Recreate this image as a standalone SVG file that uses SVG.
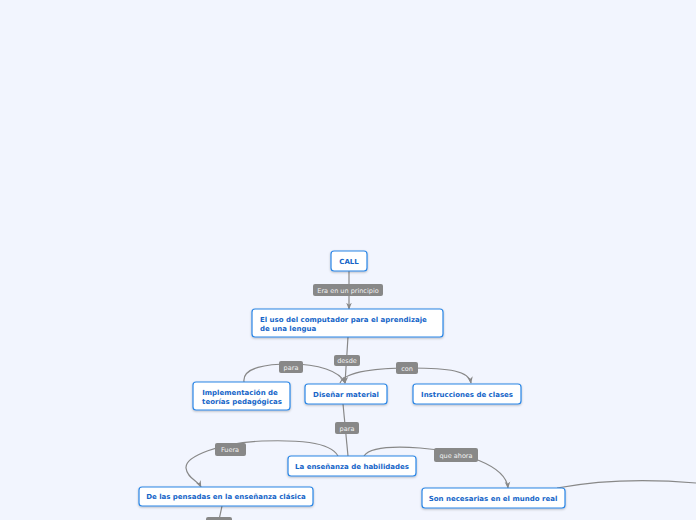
<svg xmlns="http://www.w3.org/2000/svg" width="696" height="520" viewBox="0 0 696 520">
<defs>
<marker id="arr" viewBox="0 0 10 10" refX="9" refY="5" markerWidth="7" markerHeight="7" orient="auto" markerUnits="userSpaceOnUse">
<path d="M0,1 L10,5 L0,9 L3,5 Z" fill="#888"/>
</marker>
<filter id="sh" x="-10%" y="-20%" width="120%" height="150%">
<feDropShadow dx="0" dy="1" stdDeviation="0.8" flood-color="#000" flood-opacity="0.25"/>
</filter>
</defs>
<style>
.node rect{fill:#fff;stroke:#2b86e6;stroke-width:1.2;filter:url(#sh)}
.node text{font-family:"DejaVu Sans",Verdana,sans-serif;font-weight:bold;font-size:7px;fill:#1565c8}
.lab rect{fill:#888}
.lab text{font-family:"DejaVu Sans",Verdana,sans-serif;font-size:6.5px;fill:#f2f2f2;text-anchor:middle}
.con path{fill:none;stroke:#888;stroke-width:1.2}
</style>
<rect width="696" height="520" fill="#f2f5fe"/>
<g id="connectors" class="con">
<path d="M349,271 L349,309" marker-end="url(#arr)"/>
<path d="M348,337 L345,383" marker-end="url(#arr)"/>
<path d="M244,382 C242,367 268,364 290,364 C318,364 340,371 345,383" marker-end="url(#arr)"/>
<path d="M340,383 C345,371 380,368 410,368 C450,368 469,371 471,383" marker-end="url(#arr)"/>
<path d="M343,404 L348,456"/>
<path d="M338,456 C330,441 295,440 262,441 C220,443 185,456 186,468 C187,478 198,481 201,487" marker-end="url(#arr)"/>
<path d="M364,456 C370,447 392,446 420,448 C462,451 506,465 508,488" marker-end="url(#arr)"/>
<path d="M557,488 C600,480 650,479 696,483"/>
<path d="M222,506 L219,520"/>
</g>
<g class="lab">
<g><rect x="313" y="284" width="70" height="12" rx="2"/><text x="348" y="292.5">Era en un principio</text></g>
<g><rect x="334" y="355" width="26" height="11" rx="2"/><text x="347" y="363">desde</text></g>
<g><rect x="279" y="361" width="24" height="12" rx="2"/><text x="291" y="369.5">para</text></g>
<g><rect x="396" y="362" width="22" height="12" rx="2"/><text x="407" y="370.5">con</text></g>
<g><rect x="335" y="422" width="24" height="12" rx="2"/><text x="347" y="430.5">para</text></g>
<g><rect x="215" y="443" width="31" height="13" rx="2"/><text x="230" y="452">Fuera</text></g>
<g><rect x="434" y="448" width="44" height="14" rx="2"/><text x="456" y="457.5">que ahora</text></g>
<g><rect x="206" y="517" width="26" height="10" rx="2"/></g>
</g>
<g id="call" class="node"><rect x="331" y="251" width="36" height="20" rx="3"/><text x="349" y="263.5" text-anchor="middle">CALL</text></g>
<g id="uso" class="node"><rect x="252" y="309" width="191" height="28" rx="3"/><text x="260" y="321.5">El uso del computador para el aprendizaje</text><text x="260" y="330.5">de una lengua</text></g>
<g id="impl" class="node"><rect x="193" y="382" width="97" height="28" rx="3"/><text x="240" y="394.5" text-anchor="middle">Implementación de</text><text x="242" y="403.5" text-anchor="middle">teorías pedagógicas</text></g>
<g id="disenar" class="node"><rect x="305" y="384" width="82" height="20" rx="3"/><text x="346" y="396.5" text-anchor="middle">Diseñar material</text></g>
<g id="instr" class="node"><rect x="413" y="384" width="108" height="20" rx="3"/><text x="467" y="396.5" text-anchor="middle">Instrucciones de clases</text></g>
<g id="ense" class="node"><rect x="288" y="456" width="128" height="20" rx="3"/><text x="352" y="468.5" text-anchor="middle">La enseñanza de habilidades</text></g>
<g id="pensadas" class="node"><rect x="139" y="487" width="174" height="19" rx="3"/><text x="226" y="499" text-anchor="middle">De las pensadas en la enseñanza clásica</text></g>
<g id="necesarias" class="node"><rect x="422" y="488" width="143" height="20" rx="3"/><text x="493" y="500.5" text-anchor="middle">Son necesarias en el mundo real</text></g>
</svg>
